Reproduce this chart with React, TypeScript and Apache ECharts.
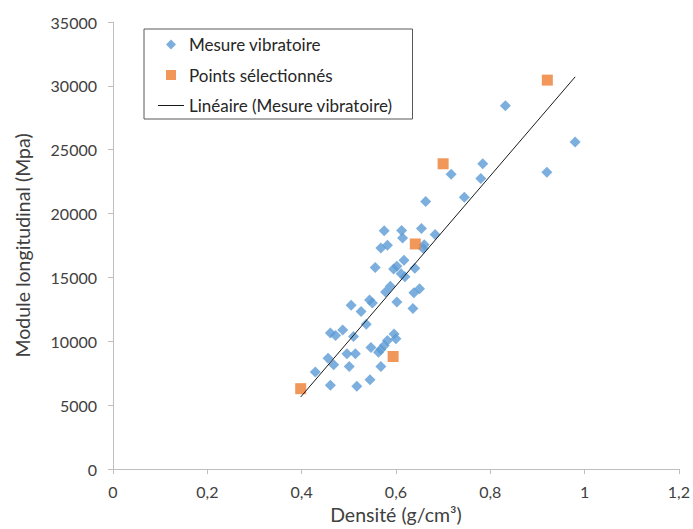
import React, { useEffect, useRef } from "react";
import * as echarts from "echarts";

// Densité (g/cm³), Module longitudinal (Mpa)
const mesureVibratoire: [number, number][] = [
  [0.98, 25600], [0.832, 28450], [0.92, 23230], [0.784, 23900], [0.78, 22750],
  [0.717, 23080], [0.745, 21280], [0.663, 20950], [0.683, 18370], [0.654, 18840],
  [0.612, 18680], [0.575, 18650], [0.614, 18080], [0.582, 17510], [0.568, 17300],
  [0.66, 17560], [0.658, 17260], [0.617, 16350], [0.556, 15770], [0.595, 15660],
  [0.602, 15880], [0.64, 15710], [0.611, 15280], [0.619, 15060], [0.588, 14300],
  [0.578, 13850], [0.638, 13800], [0.65, 14110], [0.544, 13230], [0.55, 13000],
  [0.505, 12820], [0.526, 12330], [0.602, 13080], [0.636, 12560], [0.537, 11330],
  [0.487, 10890], [0.461, 10650], [0.472, 10450], [0.51, 10380], [0.596, 10580],
  [0.6, 10190], [0.582, 10060], [0.547, 9510], [0.575, 9670], [0.568, 9350],
  [0.563, 9150], [0.496, 9020], [0.514, 9020], [0.456, 8680], [0.468, 8160],
  [0.501, 8030], [0.568, 8030], [0.429, 7590], [0.461, 6550], [0.517, 6470],
  [0.545, 6990],
];

const pointsSelectionnes: [number, number][] = [
  [0.398, 6290], [0.594, 8810], [0.641, 17620], [0.7, 23900], [0.921, 30450],
];

// Linear trend: y = slope * x + intercept
const trendSlope = 43065;
const trendIntercept = -11500;

const seriesNames = ["Mesure vibratoire", "Points sélectionnés", "Linéaire (Mesure vibratoire)"];
const xAxisTitle = "Densité (g/cm³)";
const yAxisTitle = "Module longitudinal (Mpa)";
const xRange = [0, 1.2];
const xStep = 0.2;
const yRange = [0, 35000];
const yStep = 5000;

const FONT = "Lato, 'Open Sans', sans-serif";
const BLUE = "#5B9BD5";
const ORANGE = "#ED7D31";
const LINE = "#1a1a1a";

export default function App() {
  const ref = useRef<HTMLDivElement>(null);
  useEffect(() => {
    if (!ref.current) return;
    const chart = echarts.init(ref.current, undefined, { renderer: "svg" });
    const allX = [...mesureVibratoire, ...pointsSelectionnes].map((p) => p[0]);
    const x0 = Math.min(...allX);
    const x1 = Math.max(...allX);
    const trend = [x0, x1].map((x) => [x, trendSlope * x + trendIntercept]);
    chart.setOption({
      animation: false,
      grid: { left: 113, right: 10, top: 22, bottom: 58, containLabel: false },
      legend: {
        orient: "vertical",
        left: 144,
        top: 29,
        padding: [7, 20, 5, 14],
        borderColor: "#595959",
        borderWidth: 1,
        itemWidth: 26,
        itemHeight: 10,
        itemGap: 13.5,
        symbolKeepAspect: true,
        textStyle: { fontFamily: FONT, fontSize: 17, color: "#262626" },
        data: [
          { name: seriesNames[0], icon: "path://M5,0L10,5L5,10L0,5Z", itemStyle: { color: BLUE } },
          { name: seriesNames[1], icon: "path://M0,0H10V10H0Z", itemStyle: { color: ORANGE } },
          { name: seriesNames[2], icon: "path://M0,0H26V1H0Z", itemStyle: { color: LINE } },
        ],
      },
      xAxis: {
        type: "value",
        min: xRange[0],
        max: xRange[1],
        interval: xStep,
        name: xAxisTitle,
        nameLocation: "middle",
        nameGap: 35,
        nameTextStyle: { fontFamily: FONT, fontSize: 19.5, color: "#404040" },
        axisLine: { show: true, lineStyle: { color: "#BFBFBF", width: 1 } },
        axisTick: { show: true, length: 5, lineStyle: { color: "#BFBFBF" } },
        splitLine: { show: false },
        axisLabel: {
          fontFamily: FONT,
          fontSize: 16,
          color: "#404040",
          margin: 14,
          formatter: (v: number) => String(+v.toFixed(1)).replace(".", ","),
        },
      },
      yAxis: {
        type: "value",
        min: yRange[0],
        max: yRange[1],
        interval: yStep,
        name: yAxisTitle,
        nameLocation: "middle",
        nameGap: 81,
        nameTextStyle: { fontFamily: FONT, fontSize: 19.5, color: "#404040" },
        axisLine: { show: true, lineStyle: { color: "#BFBFBF", width: 1 } },
        axisTick: { show: true, length: 5, lineStyle: { color: "#BFBFBF" } },
        splitLine: { show: false },
        axisLabel: {
          fontFamily: FONT,
          fontSize: 16,
          color: "#404040",
          margin: 16,
          formatter: (v: number) => String(v),
        },
      },
      series: [
        {
          name: seriesNames[0],
          type: "scatter",
          symbol: "diamond",
          symbolSize: 11,
          itemStyle: { color: BLUE },
          data: mesureVibratoire,
          z: 2,
        },
        {
          name: seriesNames[1],
          type: "scatter",
          symbol: "rect",
          symbolSize: 11,
          itemStyle: { color: ORANGE },
          data: pointsSelectionnes,
          z: 3,
        },
        {
          name: seriesNames[2],
          type: "line",
          symbol: "none",
          lineStyle: { color: LINE, width: 1 },
          itemStyle: { color: LINE },
          data: trend,
          z: 4,
        },
      ],
    });
    return () => chart.dispose();
  }, []);
  return (
    <div
      ref={ref}
      style={{ position: "fixed", left: 0, top: 0, width: 693, height: 529, background: "#fff" }}
    />
  );
}
